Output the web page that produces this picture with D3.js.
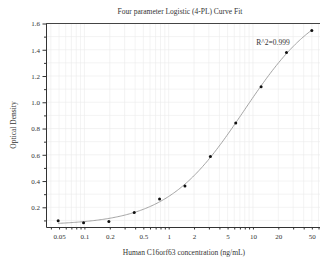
<!DOCTYPE html>
<html>
<head>
<meta charset="utf-8">
<script src="https://cdn.jsdelivr.net/npm/d3@7"></script>
<style>
  body { margin: 0; background: #fff; }
  svg { display: block; font-family: "Liberation Serif", "Times New Roman", serif; }
  .grid line { stroke: #ebebeb; stroke-width: 0.6; }
  .axis path, .axis line { stroke: #333; }
  .axis text { fill: #333; font-size: 7px; font-family: "Liberation Serif", serif; }
</style>
</head>
<body>
<div id="chart"></div>
<script>
// standard concentrations (ng/mL) and measured OD
const concentrations = [0.0488, 0.0977, 0.195, 0.39, 0.78, 1.56, 3.125, 6.25, 12.5, 25, 50];
const odValues = [0.098, 0.083, 0.091, 0.160, 0.264, 0.363, 0.587, 0.842, 1.119, 1.379, 1.547];
const xTickLabels = [0.05, 0.1, 0.2, 0.5, 1, 2, 5, 10, 20, 50];
const yTickLabels = [0.2, 0.4, 0.6, 0.8, 1.0, 1.2, 1.4, 1.6];
const rSquaredText = "R^2=0.999";

const W = 320, H = 264;
const margin = {left: 46, top: 23.5, bottom: 37};

const svg = d3.select("#chart").append("svg")
    .attr("width", W)
    .attr("height", H);

const x = d3.scaleLog().domain([0.035, 66]).range([margin.left, 322]);
const y = d3.scaleLinear().domain([0.05, 1.6]).range([H - margin.bottom, margin.top]);

// every 1..9 multiple inside the domain
let xMinor = [];
[0.01, 0.1, 1, 10].forEach(function(d) {
    for (let k = 1; k <= 9; k++) {
        const v = +(d * k).toPrecision(3);
        if (v >= 0.035 && v <= 66) xMinor.push(v);
    }
});
const yMinor = d3.range(1, 17).map(function(i) { return +(i / 10).toFixed(1); });

// grid
svg.append("g").attr("class", "grid")
    .selectAll("line.v").data(xMinor).enter().append("line")
    .attr("x1", d => x(d)).attr("x2", d => x(d))
    .attr("y1", y(0.05)).attr("y2", y(1.6));
svg.append("g").attr("class", "grid")
    .selectAll("line.h").data(yMinor).enter().append("line")
    .attr("x1", margin.left).attr("x2", W)
    .attr("y1", d => y(d)).attr("y2", d => y(d));

// axes
const xAxis = svg.append("g").attr("class", "axis")
    .attr("transform", "translate(0," + y(0.05) + ")")
    .call(d3.axisBottom(x).tickValues(xMinor).tickSize(2.5).tickSizeOuter(0)
        .tickFormat(d => xTickLabels.indexOf(d) >= 0 ? d3.format("")(d) : ""));
xAxis.selectAll("text").attr("dy", "0.95em");

const yAxis = svg.append("g").attr("class", "axis")
    .attr("transform", "translate(" + margin.left + ",0)")
    .call(d3.axisLeft(y).tickValues(yMinor).tickSize(3).tickSizeOuter(0)
        .tickFormat(d => yTickLabels.indexOf(d) >= 0 ? d3.format(".1f")(d) : ""));
yAxis.selectAll(".tick line").attr("x2", d => yTickLabels.indexOf(d) >= 0 ? -3.5 : -2);
yAxis.selectAll("text").attr("x", -6);

// top border
svg.append("line")
    .attr("x1", margin.left).attr("x2", W)
    .attr("y1", y(1.6)).attr("y2", y(1.6))
    .attr("stroke", "#444").attr("stroke-width", 1);

// 4PL fit of the standards (Nelder-Mead on squared error)
function fourPL(p, c) {
    return p[3] + (p[0] - p[3]) / (1 + Math.pow(c / Math.exp(p[2]), p[1]));
}
function sse(p) {
    let s = 0;
    concentrations.forEach(function(c, i) {
        const r = fourPL(p, c) - odValues[i];
        s += r * r;
    });
    return s;
}
function nelderMead(f, start) {
    const n = start.length;
    let simplex = [start.slice()];
    for (let i = 0; i < n; i++) {
        const p = start.slice();
        p[i] += (Math.abs(p[i]) > 0.1 ? p[i] * 0.2 : 0.1);
        simplex.push(p);
    }
    let vals = simplex.map(f);
    for (let it = 0; it < 4000; it++) {
        const idx = d3.range(n + 1).sort((a, b) => vals[a] - vals[b]);
        simplex = idx.map(i => simplex[i]);
        vals = idx.map(i => vals[i]);
        const cen = d3.range(n).map(j => d3.mean(simplex.slice(0, n), p => p[j]));
        const worst = simplex[n];
        const refl = cen.map((c, j) => c + (c - worst[j]));
        const fr = f(refl);
        if (fr < vals[0]) {
            const exp = cen.map((c, j) => c + 2 * (c - worst[j]));
            const fe = f(exp);
            if (fe < fr) { simplex[n] = exp; vals[n] = fe; } else { simplex[n] = refl; vals[n] = fr; }
        } else if (fr < vals[n - 1]) {
            simplex[n] = refl; vals[n] = fr;
        } else {
            const con = cen.map((c, j) => c + 0.5 * (worst[j] - c));
            const fc = f(con);
            if (fc < vals[n]) { simplex[n] = con; vals[n] = fc; }
            else {
                for (let i = 1; i <= n; i++) {
                    simplex[i] = simplex[i].map((v, j) => simplex[0][j] + 0.5 * (v - simplex[0][j]));
                    vals[i] = f(simplex[i]);
                }
            }
        }
    }
    return simplex[0];
}
const params = nelderMead(sse, [0.07, 1.2, Math.log(8), 1.8]);

const logMin = Math.log10(concentrations[0]), logMax = Math.log10(concentrations[concentrations.length - 1]);
const curveX = d3.range(0, 201).map(i => Math.pow(10, logMin + (logMax - logMin) * i / 200));

svg.append("path")
    .datum(curveX)
    .attr("fill", "none")
    .attr("stroke", "#9a9a9a")
    .attr("stroke-width", 0.9)
    .attr("d", d3.line().x(d => x(d)).y(d => y(fourPL(params, d))));

svg.selectAll("circle.pt")
    .data(concentrations)
    .enter().append("circle")
    .attr("cx", d => x(d))
    .attr("cy", (d, i) => y(odValues[i]))
    .attr("r", 1.5)
    .attr("fill", "#111");

// texts
svg.append("text")
    .attr("x", 180).attr("y", 13.5)
    .attr("text-anchor", "middle")
    .attr("font-size", 7.5).attr("fill", "#333")
    .text("Four parameter Logistic (4-PL) Curve Fit");

svg.append("text")
    .attr("x", 273).attr("y", 45)
    .attr("text-anchor", "middle")
    .attr("font-size", 7.5).attr("fill", "#333")
    .text(rSquaredText);

svg.append("text")
    .attr("transform", "translate(16," + 125 + ") rotate(-90)")
    .attr("text-anchor", "middle")
    .attr("font-size", 7.5).attr("fill", "#333")
    .text("Optical Density");

svg.append("text")
    .attr("x", 184).attr("y", 254.5)
    .attr("text-anchor", "middle")
    .attr("font-size", 7.5).attr("fill", "#333")
    .text("Human C16orf63 concentration (ng/mL)");
</script>
</body>
</html>
